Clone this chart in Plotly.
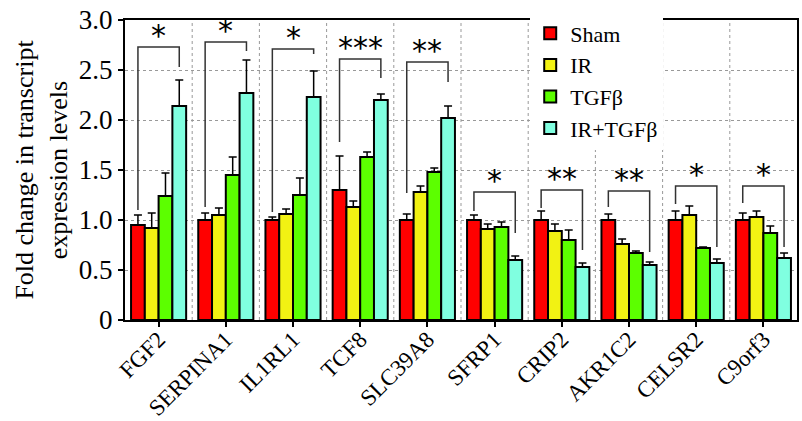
import plotly.graph_objects as go

genes = ["FGF2", "SERPINA1", "IL1RL1", "TCF8", "SLC39A8", "SFRP1", "CRIP2", "AKR1C2", "CELSR2", "C9orf3"]
series_names = ["Sham", "IR", "TGFβ", "IR+TGFβ"]
colors = ["#ff0000", "#f2f213", "#5cff00", "#80ffe0"]

sham = [0.95, 1.00, 1.00, 1.30, 1.00, 1.00, 1.00, 1.00, 1.00, 1.00]
ir = [0.92, 1.05, 1.06, 1.13, 1.28, 0.91, 0.89, 0.76, 1.05, 1.03]
tgfb = [1.24, 1.45, 1.25, 1.63, 1.48, 0.93, 0.80, 0.67, 0.72, 0.87]
ir_tgfb = [2.14, 2.27, 2.23, 2.20, 2.02, 0.60, 0.53, 0.55, 0.57, 0.62]

sham_err = [0.10, 0.07, 0.03, 0.34, 0.06, 0.05, 0.09, 0.06, 0.09, 0.07]
ir_err = [0.15, 0.07, 0.05, 0.06, 0.06, 0.05, 0.07, 0.05, 0.09, 0.06]
tgfb_err = [0.23, 0.18, 0.17, 0.05, 0.04, 0.05, 0.10, 0.02, 0.01, 0.07]
ir_tgfb_err = [0.26, 0.33, 0.26, 0.06, 0.12, 0.04, 0.04, 0.03, 0.04, 0.05]

# significance brackets: top, left-leg bottom, right-leg bottom, label
br_top = [2.73, 2.78, 2.71, 2.61, 2.58, 1.28, 1.30, 1.29, 1.34, 1.34]
br_left = [1.10, 1.13, 1.08, 1.78, 1.27, 1.09, 1.12, 1.13, 1.16, 1.17]
br_right = [2.53, 2.69, 2.66, 2.42, 2.38, 0.87, 0.70, 0.68, 0.73, 0.73]
stars = ["*", "*", "*", "***", "**", "*", "**", "**", "*", "*"]

y_ticks = [0, 0.5, 1.0, 1.5, 2.0, 2.5, 3.0]
y_ticktext = ["0", "0.5", "1.0", "1.5", "2.0", "2.5", "3.0"]

values = [sham, ir, tgfb, ir_tgfb]
errs = [sham_err, ir_err, tgfb_err, ir_tgfb_err]

FONT = "Liberation Serif"
xs = list(range(len(genes)))
bar_w = 0.205

fig = go.Figure()
for k in range(4):
    fig.add_trace(go.Bar(
        x=xs, y=values[k], name=series_names[k], width=bar_w,
        offset=(k - 2) * bar_w,
        marker=dict(color=colors[k], line=dict(color="black", width=2)),
        error_y=dict(type="data", array=errs[k], arrayminus=[0] * len(genes),
                     symmetric=False, color="black", thickness=1.5, width=4),
    ))

off = 1.5 * bar_w
for i in xs:
    fig.add_trace(go.Scatter(
        x=[i - off, i - off, i + off, i + off],
        y=[br_left[i], br_top[i], br_top[i], br_right[i]],
        mode="lines", line=dict(color="#333333", width=1.5),
        showlegend=False, hoverinfo="skip", cliponaxis=False,
    ))
    fig.add_annotation(x=i, y=br_top[i], text=stars[i], showarrow=False,
                       yanchor="bottom", yshift=-8,
                       font=dict(family="DejaVu Sans", size=30, color="black"))

# vertical dotted separators between gene groups
for i in range(len(genes) - 1):
    fig.add_shape(type="line", x0=i + 0.5, x1=i + 0.5, y0=0, y1=1,
                  xref="x", yref="paper", layer="below",
                  line=dict(color="#999999", width=1, dash="dot"))

fig.update_layout(
    width=802, height=421,
    margin=dict(l=125, r=5, t=20, b=101),
    paper_bgcolor="white", plot_bgcolor="white",
    barmode="overlay",
    font=dict(family=FONT, size=24, color="black"),
    legend=dict(x=0.603, y=1.025, xanchor="left", yanchor="top",
                bgcolor="white", font=dict(family=FONT, size=22, color="black"),
                tracegroupgap=0, itemsizing="constant"),
    xaxis=dict(range=[-0.5, 9.5], tickvals=xs, ticktext=genes, tickangle=-45,
               showgrid=False, zeroline=False, showline=True, mirror=True,
               linecolor="black", linewidth=2, ticks="outside", ticklen=5,
               tickcolor="black", tickwidth=2, automargin=False,
               ticklabelstandoff=-10,
               tickfont=dict(family=FONT, size=23)),
    xaxis2=dict(range=[-0.5, 9.5], matches="x", overlaying="x", side="top",
                tickvals=xs, showticklabels=False, ticks="inside", ticklen=3,
                tickcolor="black", tickwidth=2, showgrid=False, zeroline=False,
                showline=False, automargin=False),
    yaxis=dict(range=[0, 3.0], tickvals=y_ticks, ticktext=y_ticktext,
               showgrid=True, gridcolor="#999999", griddash="dot", gridwidth=1,
               zeroline=False, showline=True, mirror=True,
               linecolor="black", linewidth=2, ticks="outside", ticklen=5,
               tickcolor="black", tickwidth=2, automargin=False,
               tickfont=dict(family=FONT, size=27),
               title=dict(text="Fold change in transcript<br>expression levels",
                          font=dict(family=FONT, size=26), standoff=4)),
    yaxis2=dict(range=[0, 3.0], matches="y", overlaying="y", side="right",
                tickvals=y_ticks, showticklabels=False, ticks="inside", ticklen=5,
                tickcolor="black", tickwidth=2, showgrid=False, zeroline=False,
                showline=False, automargin=False),
)

fig.write_html("out.html")
